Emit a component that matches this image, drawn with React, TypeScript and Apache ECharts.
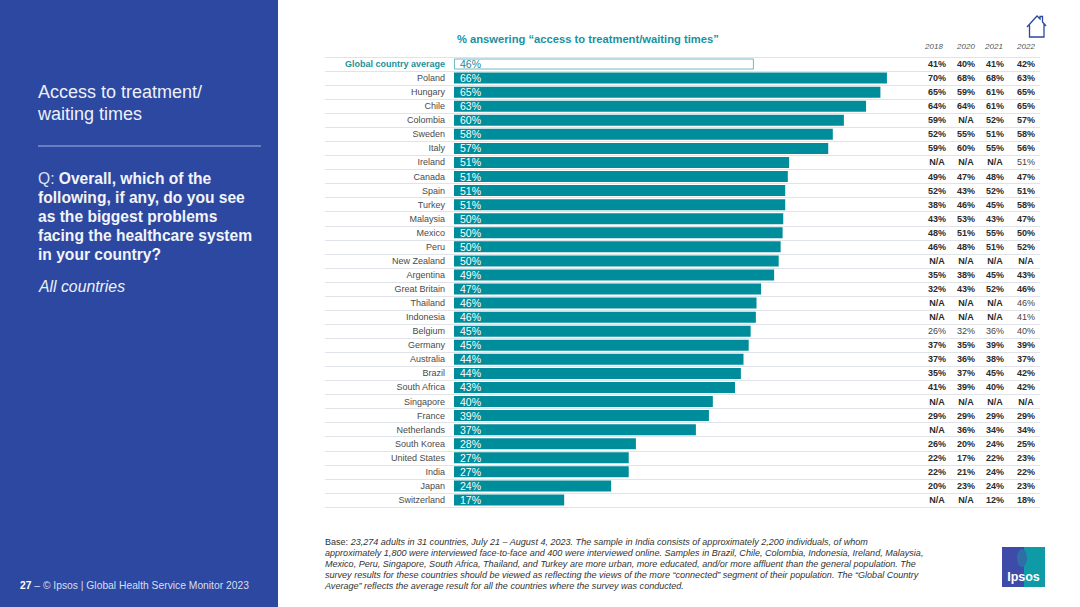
import React, { useEffect, useRef } from "react";
import * as echarts from "echarts";

const categories = ["Global country average","Poland","Hungary","Chile","Colombia","Sweden","Italy","Ireland","Canada","Spain","Turkey","Malaysia","Mexico","Peru","New Zealand","Argentina","Great Britain","Thailand","Indonesia","Belgium","Germany","Australia","Brazil","South Africa","Singapore","France","Netherlands","South Korea","United States","India","Japan","Switzerland"];
// Bar lengths as measured on the picture (the printed labels are rounded by the source)
const barValues = [46.0,66.4,65.4,63.2,59.8,58.1,57.4,51.4,51.2,50.8,50.8,50.5,50.4,50.1,49.8,49.1,47.1,46.4,46.3,45.5,45.2,44.4,44.0,43.1,39.7,39.1,37.1,27.9,26.8,26.8,24.1,16.9];
const barLabels = ["46%","66%","65%","63%","60%","58%","57%","51%","51%","51%","51%","50%","50%","50%","50%","49%","47%","46%","46%","45%","45%","44%","44%","43%","40%","39%","37%","28%","27%","27%","24%","17%"];
const years = ["2018","2020","2021","2022"];
const col2018 = ["41%","70%","65%","64%","59%","52%","59%","N/A","49%","52%","38%","43%","48%","46%","N/A","35%","32%","N/A","N/A","26%","37%","37%","35%","41%","N/A","29%","N/A","26%","22%","22%","20%","N/A"];
const col2020 = ["40%","68%","59%","64%","N/A","55%","60%","N/A","47%","43%","46%","53%","51%","48%","N/A","38%","43%","N/A","N/A","32%","35%","36%","37%","39%","N/A","29%","36%","20%","17%","21%","23%","N/A"];
const col2021 = ["41%","68%","61%","61%","52%","51%","55%","N/A","48%","52%","45%","43%","55%","51%","N/A","45%","52%","N/A","N/A","36%","39%","38%","45%","40%","N/A","29%","34%","24%","22%","24%","24%","12%"];
const col2022 = ["42%","63%","65%","65%","57%","58%","56%","51%","47%","51%","58%","47%","50%","52%","N/A","43%","46%","46%","41%","40%","39%","37%","42%","42%","N/A","29%","34%","25%","23%","22%","23%","18%"];
const columns = [col2018, col2020, col2021, col2022];
const columnOffsets = [-103, -74, -45, -14];
const headerX = [934, 966, 994, 1026];
const lightRows2022 = ["Ireland", "Thailand", "Indonesia", "Belgium"];

const titleText = "% answering “access to treatment/waiting times”";
const panelTitle = "Access to treatment/\nwaiting times";
const panelQuestion = ["{q|Q: }{b|Overall, which of the}", "{b|following, if any, do you see}", "{b|as the biggest problems}", "{b|facing the healthcare system}", "{b|in your country?}"];
const panelBase = "All countries";
const footer = "{b|27} {t|– © Ipsos | Global Health Service Monitor 2023}";
const noteLines = [
  "{r|Base: }{i|23,274 adults in 31 countries, July 21 – August 4, 2023. The sample in India consists of approximately 2,200 individuals, of whom}",
  "{i|approximately 1,800 were interviewed face-to-face and 400 were interviewed online. Samples in Brazil, Chile, Colombia, Indonesia, Ireland, Malaysia,}",
  "{i|Mexico, Peru, Singapore, South Africa, Thailand, and Turkey are more urban, more educated, and/or more affluent than the general population. The}",
  "{i|survey results for these countries should be viewed as reflecting the views of the more “connected” segment of their population. The “Global Country}",
  "{i|Average” reflects the average result for all the countries where the survey was conducted.}",
];

const FONT = "Liberation Sans";
const TEAL = "#008d9b";
const BLUE = "#2c48a0";
const PX_PER_UNIT = 6.52;
const AXIS_MIN = -(454 - 325) / PX_PER_UNIT;
const AXIS_MAX = (1040 - 454) / PX_PER_UNIT;

echarts.graphic.registerShape(
  "homeIcon",
  echarts.graphic.extendPath("M0 11L10 0L13 3L13 0.5L15.5 0.5L15.5 6L19 10M2.5 9L2.5 21L17 21L17 8", {}) as any
);

export default function App() {
  const ref = useRef<HTMLDivElement>(null);
  useEffect(() => {
    document.body.style.margin = "0";
    const chart = echarts.init(ref.current!, undefined, { renderer: "svg" });
    const tableAxes = columns.map((col, c) => ({
      type: "category" as const,
      position: "right" as const,
      inverse: true,
      offset: columnOffsets[c],
      data: col,
      axisLine: { show: false },
      axisTick: { show: false },
      splitLine: { show: false },
      axisLabel: {
        interval: 0,
        margin: 0,
        align: "center" as const,
        fontFamily: FONT,
        fontSize: 9,
        formatter: (v: string, i: number) => {
          const light = c === 3 ? lightRows2022.includes(categories[i]) : categories[i] === "Belgium";
          return light ? `{n|${v}}` : `{b|${v}}`;
        },
        rich: {
          b: { fontFamily: FONT, fontSize: 9, fontWeight: "bold" as const, color: "#2a2a2a" },
          n: { fontFamily: FONT, fontSize: 9, color: "#444" },
        },
      },
    }));
    chart.setOption({
      animation: false,
      backgroundColor: "#ffffff",
      title: {
        text: titleText,
        left: 457,
        top: 33,
        padding: 0,
        textStyle: { fontFamily: FONT, fontSize: 11.2, fontWeight: "bold", color: "#17929f" },
      },
      grid: { left: 325, top: 57, width: 715, height: 450, containLabel: false },
      xAxis: { type: "value", min: AXIS_MIN, max: AXIS_MAX, show: false, splitLine: { show: false } },
      yAxis: [
        {
          type: "category",
          inverse: true,
          data: categories,
          axisLine: { show: false },
          axisTick: { show: false },
          splitLine: { show: true, lineStyle: { color: "#e0e3e8", width: 1 } },
          axisLabel: {
            interval: 0,
            margin: -120,
            fontFamily: FONT,
            fontSize: 9,
            color: "#4a4a4a",
            formatter: (v: string, i: number) => (i === 0 ? `{g|${v}}` : v),
            rich: { g: { fontFamily: FONT, fontSize: 9, fontWeight: "bold", color: "#17929f" } },
          },
        },
        ...tableAxes,
      ],
      series: [
        {
          type: "bar",
          yAxisIndex: 0,
          barWidth: 11,
          data: barValues.map((v, i) =>
            i === 0
              ? { value: v, itemStyle: { color: "#ffffff", borderColor: "#6fb9c3", borderWidth: 1 }, label: { color: "#1b8794" } }
              : { value: v }
          ),
          itemStyle: { color: TEAL },
          label: {
            show: true,
            position: "insideLeft",
            distance: 6,
            fontFamily: FONT,
            fontSize: 10.5,
            color: "#ffffff",
            formatter: (p: any) => barLabels[p.dataIndex],
          },
        },
      ],
      graphic: [
        { type: "rect", shape: { x: 0, y: 0, width: 278, height: 607 }, style: { fill: BLUE }, silent: true },
        { type: "text", x: 38, y: 81, style: { text: panelTitle, fontFamily: FONT, fontSize: 18, lineHeight: 22, fill: "#eef0f8" } },
        { type: "line", shape: { x1: 38, y1: 146, x2: 261, y2: 146 }, style: { stroke: "#aab6dc", lineWidth: 1 } },
        {
          type: "text", x: 38, y: 169,
          style: {
            text: panelQuestion.join("\n"),
            lineHeight: 18.9,
            fontFamily: FONT,
            fontSize: 15.6,
            fill: "#eef0f8",
            rich: {
              q: { fontFamily: FONT, fontSize: 15.6, lineHeight: 18.9, fill: "#dfe3f2" },
              b: { fontFamily: FONT, fontSize: 15.6, lineHeight: 18.9, fontWeight: "bold", fill: "#f2f4fa" },
            },
          },
        },
        { type: "text", x: 39, y: 278, style: { text: panelBase, fontFamily: FONT, fontSize: 15.8, fontStyle: "italic", fill: "#eef0f8" } },
        {
          type: "text", x: 20, y: 580,
          style: {
            text: footer,
            fontFamily: FONT,
            fontSize: 10.3,
            rich: {
              b: { fontFamily: FONT, fontSize: 10.3, fontWeight: "bold", fill: "#ffffff" },
              t: { fontFamily: FONT, fontSize: 10.3, fill: "#d9def0" },
            },
          },
        },
        ...years.map((y, i) => ({
          type: "text" as const, x: headerX[i], y: 46,
          style: { text: y, fontFamily: FONT, fontSize: 8, fontStyle: "italic" as const, fill: "#555", align: "center" as const, verticalAlign: "middle" as const },
        })),
        {
          type: "text", x: 325, y: 536,
          style: {
            text: noteLines.join("\n"),
            fontFamily: FONT, fontSize: 9.05, lineHeight: 11.2, fill: "#333",
            rich: {
              i: { fontFamily: FONT, fontSize: 9.05, lineHeight: 11.2, fontStyle: "italic", fill: "#333" },
              r: { fontFamily: FONT, fontSize: 9.05, lineHeight: 11.2, fill: "#333" },
            },
          },
        },
        { type: "homeIcon", x: 1027, y: 16, style: { fill: "none", stroke: "#2c48a0", lineWidth: 1.3 } },
        { type: "rect", shape: { x: 1002, y: 547, width: 22, height: 40 }, style: { fill: "#3f4ba8" } },
        { type: "rect", shape: { x: 1024, y: 547, width: 21, height: 40 }, style: { fill: "#0f9aa8" } },
        { type: "ellipse", shape: { cx: 1022, cy: 558, rx: 5, ry: 9 }, style: { fill: "#2d6fa6" } },
        { type: "text", x: 1023.5, y: 577, style: { text: "Ipsos", fontFamily: FONT, fontSize: 12.5, fontWeight: "bold", fill: "#ffffff", align: "center", verticalAlign: "middle" } },
      ],
    });
    return () => chart.dispose();
  }, []);
  return <div ref={ref} style={{ width: 1080, height: 607 }} />;
}
